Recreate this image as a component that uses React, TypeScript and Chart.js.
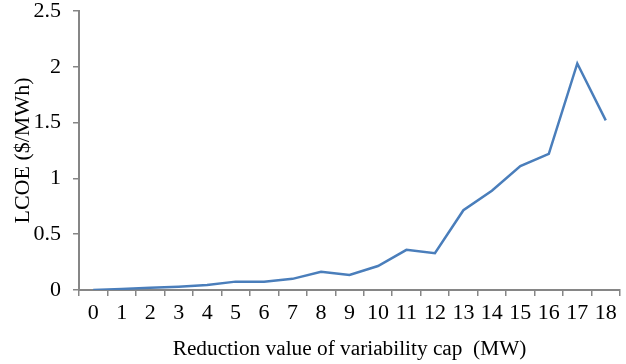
import React, { useEffect, useRef } from "react";
import { Chart, registerables } from "chart.js";

Chart.register(...registerables);

const categories = ["0","1","2","3","4","5","6","7","8","9","10","11","12","13","14","15","16","17","18"];
const lcoe = [0, 0.01, 0.02, 0.03, 0.045, 0.075, 0.075, 0.1, 0.164, 0.134, 0.215, 0.36, 0.33, 0.715, 0.89, 1.11, 1.22, 2.03, 1.52];
const yTicks = [0, 0.5, 1, 1.5, 2, 2.5];

const FONT = "'Liberation Serif', 'Times New Roman', serif";
const AXIS = "#868686";

export default function App() {
  const ref = useRef<HTMLCanvasElement | null>(null);
  useEffect(() => {
    if (!ref.current) return;
    const chart = new Chart(ref.current, {
      type: "line",
      data: {
        labels: categories,
        datasets: [
          {
            data: lcoe,
            borderColor: "#4a7ebb",
            borderWidth: 2.5,
            pointRadius: 0,
            tension: 0,
            fill: false,
          },
        ],
      },
      options: {
        animation: false,
        responsive: true,
        maintainAspectRatio: false,
        layout: { padding: { top: 11, right: 6, left: 0, bottom: 0 } },
        plugins: { legend: { display: false }, tooltip: { enabled: false } },
        scales: {
          x: {
            type: "category",
            offset: true,
            afterFit: (s: any) => {
              s.height = 74;
              s.paddingLeft = 0;
              s.paddingRight = 0;
            },
            grid: {
              display: true,
              drawOnChartArea: false,
              offset: true,
              color: AXIS,
              tickLength: 6,
              lineWidth: 1.5,
            },
            border: { color: AXIS, width: 2 },
            ticks: { color: "#000", font: { family: FONT, size: 22 }, padding: 4, maxRotation: 0, autoSkip: false },
            title: {
              display: true,
              text: "Reduction value of variability cap  (MW)",
              color: "#000",
              font: { family: FONT, size: 21.3 },
              padding: { top: 0, bottom: 2 },
            },
          },
          y: {
            min: 0,
            max: 2.5,
            afterBuildTicks: (s: any) => {
              s.ticks = yTicks.map((v) => ({ value: v }));
            },
            afterFit: (s: any) => {
              s.width = 79;
              s.paddingTop = 0;
              s.paddingBottom = 0;
            },
            grid: {
              display: true,
              drawOnChartArea: false,
              color: AXIS,
              tickLength: 6,
              lineWidth: 1.5,
            },
            border: { color: AXIS, width: 2 },
            ticks: {
              color: "#000",
              font: { family: FONT, size: 22 },
              padding: 12,
              callback: (v: any) => String(v),
            },
            title: {
              display: true,
              text: "LCOE ($/MWh)",
              color: "#000",
              font: { family: FONT, size: 22 },
              padding: { top: 10, bottom: 0 },
            },
          },
        },
      },
    });
    return () => chart.destroy();
  }, []);
  return (
    <div style={{ position: "fixed", left: 0, top: 0, width: 626, height: 364, background: "#fff" }}>
      <canvas ref={ref} />
    </div>
  );
}
